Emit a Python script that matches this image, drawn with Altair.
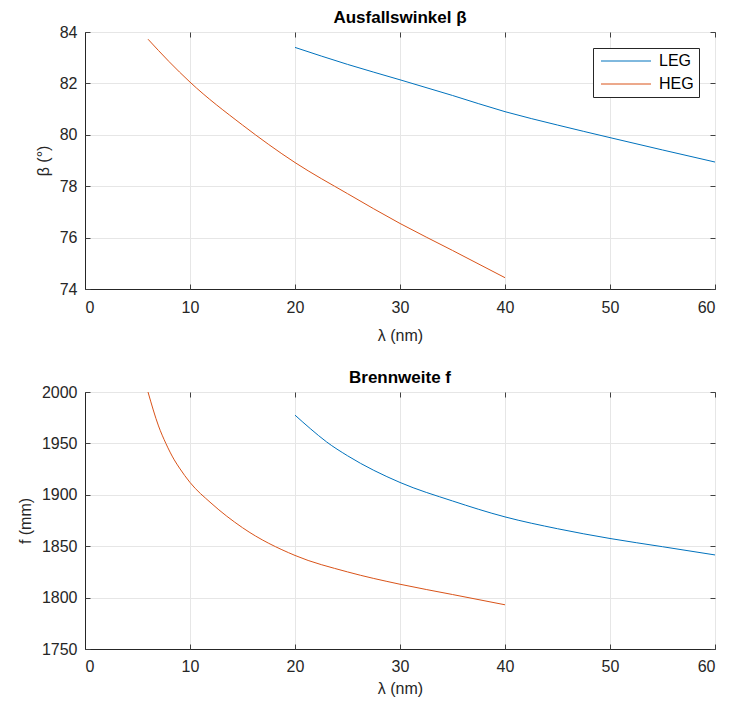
import altair as alt
import pandas as pd

# ---- data ----
series_names = ["LEG", "HEG"]
series_colors = ["#0072BD", "#D95319"]

lam_leg_beta = [20, 25, 30, 35, 40, 45, 50, 55, 60]
beta_leg = [83.40, 82.74, 82.14, 81.53, 80.90, 80.38, 79.89, 79.41, 78.94]
lam_heg_beta = [6, 8, 10, 15, 20, 25, 30, 35, 40]
beta_heg = [83.72, 82.85, 82.05, 80.38, 78.92, 77.71, 76.55, 75.50, 74.44]

lam_leg_f = [20, 21.5, 23, 25, 30, 35, 40, 45, 50, 55, 60]
f_leg = [1977.5, 1964, 1951.5, 1938, 1912, 1894, 1878.5, 1867, 1857.5, 1849.5, 1841.5]
lam_heg_f = [6, 7, 7.7, 8.5, 9, 10, 12, 15, 20, 25, 30, 35, 40]
f_heg = [2000, 1967, 1950, 1934, 1926, 1912, 1892, 1868, 1841, 1825, 1813, 1803, 1793]

x_ticks = [0, 10, 20, 30, 40, 50, 60]
beta_ticks = [74, 76, 78, 80, 82, 84]
f_ticks = [1750, 1800, 1850, 1900, 1950, 2000]


def frame(lx, ly, name):
    return pd.DataFrame({"lam": lx, "val": ly, "series": name})


df_beta = pd.concat([frame(lam_leg_beta, beta_leg, "LEG"), frame(lam_heg_beta, beta_heg, "HEG")])
df_f = pd.concat([frame(lam_leg_f, f_leg, "LEG"), frame(lam_heg_f, f_heg, "HEG")])

FONT = "Liberation Sans"
W = 630
TICK = "#404040"


def tick_axis(orient, values):
    return alt.Axis(orient=orient, values=values, labels=False, domain=False, grid=False,
                    tickSize=5, offset=-5, title=None, tickColor=TICK, tickWidth=1)


def panel(df, ydomain, yticks, ytitle, title, ltop, h, lpad, tpad):
    xs = alt.Scale(domain=[0, 60], nice=False, zero=False)
    ys = alt.Scale(domain=ydomain, nice=False, zero=False)
    main = (
        alt.Chart(df)
        .mark_line(strokeWidth=1, clip=True, interpolate="monotone")
        .encode(
            x=alt.X("lam:Q", scale=xs,
                    axis=alt.Axis(values=x_ticks, title="λ (nm)", format="d",
                                  labelPadding=lpad, titlePadding=tpad)),
            y=alt.Y("val:Q", scale=ys,
                    axis=alt.Axis(values=yticks, title=ytitle, format="d")),
            color=alt.Color("series:N",
                            scale=alt.Scale(domain=series_names, range=series_colors),
                            sort=series_names,
                            legend=alt.Legend(orient="none", legendX=508, legendY=ltop,
                                              title=None, symbolType="M-1,0H9",
                                              symbolSize=100, symbolStrokeWidth=1,
                                              labelOffset=45,
                                              strokeColor="#262626", fillColor="white",
                                              padding=5, rowPadding=7,
                                              labelFont=FONT, labelFontSize=16,
                                              labelColor="#000000")),
            order=alt.Order("lam:Q"),
        )
    )
    ticks_tr = (
        alt.Chart(df).mark_line(opacity=0, clip=True)
        .encode(x=alt.X("lam:Q", scale=xs, axis=tick_axis("top", x_ticks)),
                y=alt.Y("val:Q", scale=ys, axis=tick_axis("right", yticks)),
                detail="series:N")
    )
    ticks_bl = (
        alt.Chart(df).mark_line(opacity=0, clip=True)
        .encode(x=alt.X("lam:Q", scale=xs, axis=tick_axis("bottom", x_ticks)),
                y=alt.Y("val:Q", scale=ys, axis=tick_axis("left", yticks)),
                detail="series:N")
    )
    return (
        alt.layer(main, ticks_tr, ticks_bl)
        .resolve_axis(x="independent", y="independent")
        .properties(width=W, height=h,
                    title=alt.TitleParams(title, font=FONT, fontSize=17, fontWeight="bold",
                                          color="#000000", offset=-3))
    )


top = panel(df_beta, [74, 84], beta_ticks, "β (°)", "Ausfallswinkel   β", 16, 257, 10, 12)
bottom = panel(df_f, [1750, 2000], f_ticks, "f (mm)", "Brennweite f", 17, 257, 9, 6)

chart = (
    alt.vconcat(top, bottom, spacing=24)
    .properties(padding={"left": 8, "top": 0, "right": 0, "bottom": 0})
    .configure_view(stroke="#262626", strokeWidth=1)
    .configure_axis(
        labelFont=FONT, labelFontSize=16, labelColor="#262626",
        titleFont=FONT, titleFontSize=16, titleFontWeight="normal", titleColor="#262626",
        domainColor="#262626", domainWidth=1,
        gridColor="#e6e6e6", gridWidth=1,
        tickSize=0, labelPadding=8, titlePadding=8,
    )
)

chart.save("out.html", embed_options={"renderer": "svg", "actions": False})
